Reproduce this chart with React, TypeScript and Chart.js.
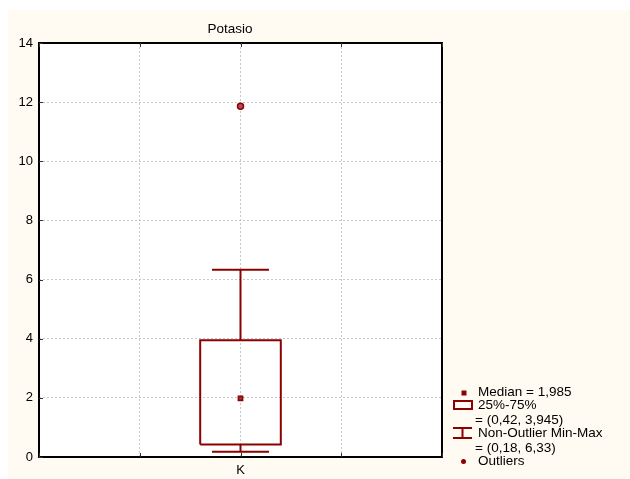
import React, { useEffect, useRef } from "react";
import { Chart, registerables } from "chart.js";

Chart.register(...registerables);

// ---- data ----
const title = "Potasio";
const categories = ["K"];
const medians = [1.985];
const q1Values = [0.42];
const q3Values = [3.945];
const whiskerMins = [0.18];
const whiskerMaxs = [6.33];
const outlierValues = [[11.86]];
const yMin = 0;
const yMax = 14;
const yStep = 2;

// ---- style ----
const RED = "#8b0000";
const FONT = "'Liberation Sans', Arial, sans-serif";
const BOX_HALF = 0.4;
const CAP_HALF = 0.283;
const GRID = "#c8c8c8";

const fmt = (v: number) => String(v).replace(".", ",");

export default function App() {
  const ref = useRef<HTMLCanvasElement | null>(null);

  useEffect(() => {
    if (!ref.current) return;
    const datasets: any[] = [];
    categories.forEach((_, i) => {
      const c = i;
      const q1 = q1Values[i], q3 = q3Values[i];
      const lo = whiskerMins[i], hi = whiskerMaxs[i];
      const line = (data: any[]) => ({
        data,
        showLine: true,
        borderColor: RED,
        borderWidth: 2,
        pointRadius: 0,
        fill: false,
        borderJoinStyle: "miter",
        borderCapStyle: "butt",
      });
      datasets.push(line([
        { x: c - BOX_HALF, y: q1 }, { x: c + BOX_HALF, y: q1 },
        { x: c + BOX_HALF, y: q3 }, { x: c - BOX_HALF, y: q3 },
        { x: c - BOX_HALF, y: q1 },
      ]));
      datasets.push(line([{ x: c, y: q3 }, { x: c, y: hi }]));
      datasets.push(line([{ x: c - CAP_HALF, y: hi }, { x: c + CAP_HALF, y: hi }]));
      datasets.push(line([{ x: c, y: q1 }, { x: c, y: lo }]));
      datasets.push(line([{ x: c - CAP_HALF, y: lo }, { x: c + CAP_HALF, y: lo }]));
      datasets.push({
        data: [{ x: c, y: medians[i] }],
        pointStyle: "rect",
        pointRadius: 3,
        backgroundColor: "#a03030",
        borderColor: RED,
        borderWidth: 1.5,
        showLine: false,
      });
      datasets.push({
        data: outlierValues[i].map((v) => ({ x: c, y: v })),
        pointStyle: "circle",
        pointRadius: 3,
        backgroundColor: "#b05050",
        borderColor: RED,
        borderWidth: 1.5,
        showLine: false,
      });
    });

    const bgPlugin = {
      id: "bg",
      beforeDraw(chart: any) {
        const { ctx, chartArea: a } = chart;
        ctx.save();
        ctx.fillStyle = "#ffffff";
        ctx.fillRect(0, 0, chart.width, chart.height);
        ctx.fillStyle = "#fffbf2";
        ctx.fillRect(8, 10, chart.width - 8, chart.height - 10);
        ctx.fillStyle = "#ffffff";
        ctx.fillRect(a.left, a.top, a.right - a.left, a.bottom - a.top);
        ctx.restore();
      },
      afterDraw(chart: any) {
        const { ctx, chartArea: a, scales } = chart;
        ctx.save();
        ctx.strokeStyle = "#000000";
        ctx.lineWidth = 2;
        ctx.strokeRect(a.left, a.top, a.right - a.left, a.bottom - a.top);
        ctx.lineWidth = 1;
        ctx.strokeStyle = "#333333";
        ctx.beginPath();
        scales.y.ticks.forEach((t: any) => {
          const y = Math.round(scales.y.getPixelForValue(t.value)) + 0.5;
          ctx.moveTo(a.left, y);
          ctx.lineTo(a.left + 4, y);
        });
        scales.x.ticks.forEach((t: any) => {
          const x = Math.round(scales.x.getPixelForValue(t.value)) + 0.5;
          ctx.moveTo(x, a.top);
          ctx.lineTo(x, a.top + 4);
          ctx.moveTo(x, a.bottom);
          ctx.lineTo(x, a.bottom - 4);
        });
        ctx.stroke();
        ctx.fillStyle = "#000000";
        ctx.font = `13.5px ${FONT}`;
        ctx.textAlign = "center";
        ctx.textBaseline = "middle";
        ctx.fillText(title, 230, 29);
        ctx.textAlign = "left";
        const tx = 478;
        ctx.fillText(`Median = ${fmt(medians[0])}`, tx, 392);
        ctx.fillText("25%-75%", tx, 405);
        ctx.fillText(`= (${fmt(q1Values[0])}, ${fmt(q3Values[0])})`, 475, 420);
        ctx.fillText("Non-Outlier Min-Max", tx, 433);
        ctx.fillText(`= (${fmt(whiskerMins[0])}, ${fmt(whiskerMaxs[0])})`, 475, 448);
        ctx.fillText("Outliers", tx, 461);
        ctx.fillStyle = RED;
        ctx.strokeStyle = RED;
        ctx.fillRect(461.5, 390.5, 5, 5);
        ctx.lineWidth = 2;
        ctx.strokeRect(454, 401, 18, 8);
        ctx.beginPath();
        ctx.moveTo(453, 428); ctx.lineTo(472, 428);
        ctx.moveTo(453, 438); ctx.lineTo(472, 438);
        ctx.moveTo(462.5, 428); ctx.lineTo(462.5, 438);
        ctx.stroke();
        ctx.beginPath();
        ctx.arc(463.5, 461.5, 2.5, 0, Math.PI * 2);
        ctx.fill();
        ctx.restore();
      },
    };

    const chart = new Chart(ref.current, {
      type: "scatter",
      data: { datasets },
      options: {
        animation: false,
        responsive: false,
        devicePixelRatio: 1,
        layout: { padding: { left: 0, top: 43, right: 188, bottom: 0 } },
        plugins: { legend: { display: false }, tooltip: { enabled: false }, title: { display: false } },
        scales: {
          x: {
            type: "linear",
            min: -2,
            max: 2,
            border: { display: false, dash: [2, 2] },
            grid: { color: GRID, drawTicks: false, lineWidth: 1 },
            ticks: {
              stepSize: 1,
              padding: 6,
              color: "#000",
              font: { family: FONT, size: 13 },
              callback: (v: any) => {
                const i = Number(v);
                return Number.isInteger(i) && categories[i] !== undefined ? categories[i] : "";
              },
            },
            afterFit: (s: any) => { s.height = 22; },
          },
          y: {
            min: yMin,
            max: yMax,
            border: { display: false, dash: [2, 2] },
            grid: { color: GRID, drawTicks: false, lineWidth: 1 },
            ticks: {
              stepSize: yStep,
              padding: 6,
              color: "#000",
              font: { family: FONT, size: 13 },
            },
            afterFit: (s: any) => { s.width = 39; },
          },
        },
      },
      plugins: [bgPlugin],
    } as any);
    return () => chart.destroy();
  }, []);

  return (
    <div style={{ position: "absolute", left: 0, top: 0, width: 630, height: 479 }}>
      <canvas ref={ref} width={630} height={479} style={{ width: 630, height: 479, display: "block" }} />
    </div>
  );
}
